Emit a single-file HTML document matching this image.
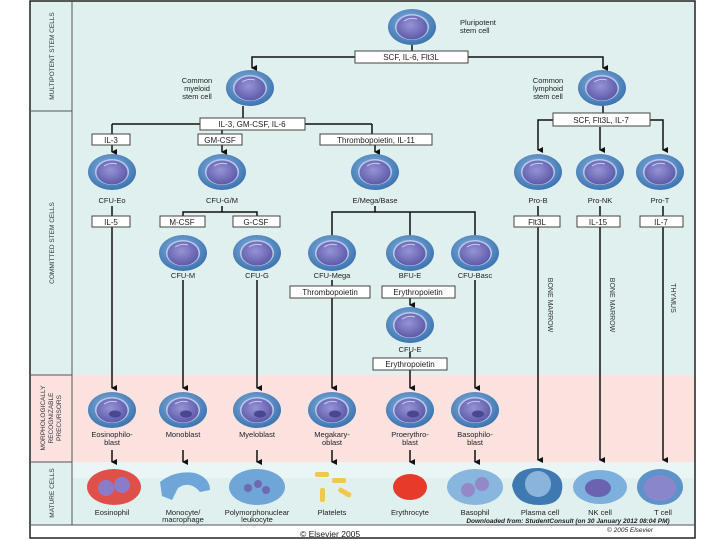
<!DOCTYPE html>
<html><head><meta charset="utf-8"><style>
html,body{margin:0;padding:0;background:#fff;}
svg{display:block;font-family:"Liberation Sans",sans-serif;}
</style></head><body>
<svg width="720" height="540" viewBox="0 0 720 540" xmlns="http://www.w3.org/2000/svg">
<defs>
<radialGradient id="go" cx="0.45" cy="0.4" r="0.6"><stop offset="0" stop-color="#8ab6e0"/><stop offset="1" stop-color="#3d74b0"/></radialGradient>
<radialGradient id="gi" cx="0.45" cy="0.4" r="0.6"><stop offset="0" stop-color="#9594d6"/><stop offset="1" stop-color="#5e5aa8"/></radialGradient>
<g id="c">
<ellipse cx="0" cy="0" rx="24" ry="18" fill="url(#go)"/>
<ellipse cx="0" cy="0" rx="17" ry="13" fill="#b8c8ec"/>
<ellipse cx="0" cy="0.5" rx="15.5" ry="12" fill="url(#gi)"/>
<path d="M-8,-6 Q-2,-10 5,-8" stroke="#c8c8f0" stroke-width="1" fill="none"/>
</g>
<g id="p">
<use href="#c"/>
<ellipse cx="3" cy="4" rx="6" ry="3.5" fill="#4a4690"/>
</g>
<marker id="a" markerWidth="6" markerHeight="6" refX="3" refY="5" orient="auto-start-reverse" markerUnits="userSpaceOnUse"><path d="M0,0 L6,0 L3,6 Z" fill="#111"/></marker>
</defs>
<rect x="30" y="1" width="665" height="537" fill="#dff0ee"/>
<rect x="30" y="375" width="665" height="87" fill="#fbe2df"/>
<rect x="72" y="462" width="623" height="16" fill="#e9f6f5"/>
<rect x="30" y="525" width="665" height="13" fill="#fff"/>
<rect x="30" y="1" width="665" height="537" fill="none" stroke="#222" stroke-width="1.5"/>
<line x1="72" y1="1" x2="72" y2="525" stroke="#555" stroke-width="1"/>
<line x1="30" y1="111" x2="72" y2="111" stroke="#555"/>
<line x1="30" y1="375" x2="72" y2="375" stroke="#555"/>
<line x1="30" y1="462" x2="72" y2="462" stroke="#555"/>
<line x1="30" y1="525" x2="695" y2="525" stroke="#555"/>
<g font-size="6.5" fill="#333" text-anchor="middle">
<text transform="translate(54,56) rotate(-90)">MULTIPOTENT STEM CELLS</text>
<text transform="translate(54,243) rotate(-90)">COMMITTED STEM CELLS</text>
<text transform="translate(45,418) rotate(-90)">MORPHOLOGICALLY</text>
<text transform="translate(53,418) rotate(-90)">RECOGNIZABLE</text>
<text transform="translate(61,418) rotate(-90)">PRECURSORS</text>
<text transform="translate(54,493) rotate(-90)">MATURE CELLS</text>
</g>
<g stroke="#111" stroke-width="1.5" fill="none">
<line x1="412" y1="45" x2="412" y2="51"/>
<polyline points="355,57 252,57 252,68" marker-end="url(#a)"/>
<polyline points="468,57 603,57 603,68" marker-end="url(#a)"/>
<line x1="243" y1="106" x2="243" y2="118"/>
<line x1="112" y1="124" x2="200" y2="124"/><line x1="305" y1="124" x2="372" y2="124"/>
<line x1="112" y1="124" x2="112" y2="134"/><line x1="112" y1="145" x2="112" y2="152" marker-end="url(#a)"/>
<line x1="222" y1="129" x2="222" y2="134"/><line x1="222" y1="145" x2="222" y2="152" marker-end="url(#a)"/>
<line x1="372" y1="124" x2="372" y2="134"/><line x1="375" y1="145" x2="375" y2="152" marker-end="url(#a)"/>
<line x1="603" y1="106" x2="603" y2="113"/>
<polyline points="553,120 538,120 538,150" marker-end="url(#a)"/>
<polyline points="650,120 663,120 663,150" marker-end="url(#a)"/>
<line x1="600" y1="127" x2="600" y2="150" marker-end="url(#a)"/>
<line x1="112" y1="206" x2="112" y2="216"/><line x1="112" y1="227" x2="112" y2="388" marker-end="url(#a)"/>
<polyline points="222,206 222,212 183,212 183,218"/><polyline points="222,212 257,212 257,218"/>
<polyline points="375,206 375,212 332,212 332,236"/><polyline points="375,212 475,212 475,236"/><line x1="410" y1="212" x2="410" y2="236"/>
<line x1="183" y1="280" x2="183" y2="388" marker-end="url(#a)"/>
<line x1="257" y1="280" x2="257" y2="388" marker-end="url(#a)"/>
<line x1="332" y1="280" x2="332" y2="388" marker-end="url(#a)"/>
<line x1="475" y1="280" x2="475" y2="388" marker-end="url(#a)"/>
<line x1="410" y1="298" x2="410" y2="305" marker-end="url(#a)"/>
<line x1="410" y1="352" x2="410" y2="358"/><line x1="410" y1="370" x2="410" y2="388" marker-end="url(#a)"/>
<line x1="538" y1="206" x2="538" y2="216"/><line x1="538" y1="227" x2="538" y2="460" marker-end="url(#a)"/>
<line x1="600" y1="206" x2="600" y2="216"/><line x1="600" y1="227" x2="600" y2="460" marker-end="url(#a)"/>
<line x1="663" y1="206" x2="663" y2="216"/><line x1="663" y1="227" x2="663" y2="460" marker-end="url(#a)"/>
<line x1="112" y1="450" x2="112" y2="462" marker-end="url(#a)"/>
<line x1="183" y1="450" x2="183" y2="462" marker-end="url(#a)"/>
<line x1="257" y1="450" x2="257" y2="462" marker-end="url(#a)"/>
<line x1="332" y1="450" x2="332" y2="462" marker-end="url(#a)"/>
<line x1="410" y1="450" x2="410" y2="462" marker-end="url(#a)"/>
<line x1="475" y1="450" x2="475" y2="462" marker-end="url(#a)"/>
</g>
<g fill="#fff" stroke="#444" stroke-width="1">
<rect x="355" y="51" width="113" height="12"/>
<rect x="200" y="118" width="105" height="12"/>
<rect x="92" y="134" width="38" height="11"/>
<rect x="198" y="134" width="44" height="11"/>
<rect x="320" y="134" width="112" height="11"/>
<rect x="553" y="113" width="97" height="13"/>
<rect x="92" y="216" width="38" height="11"/>
<rect x="160" y="216" width="45" height="11"/>
<rect x="233" y="216" width="47" height="11"/>
<rect x="514" y="216" width="46" height="11"/>
<rect x="577" y="216" width="43" height="11"/>
<rect x="640" y="216" width="43" height="11"/>
<rect x="290" y="286" width="80" height="12"/>
<rect x="382" y="286" width="73" height="12"/>
<rect x="373" y="358" width="74" height="12"/>
</g>
<g font-size="8" fill="#222" text-anchor="middle">
<text x="411" y="60">SCF, IL-6, Flt3L</text>
<text x="252" y="127">IL-3, GM-CSF, IL-6</text>
<text x="111" y="143">IL-3</text>
<text x="220" y="143">GM-CSF</text>
<text x="376" y="143">Thrombopoietin, IL-11</text>
<text x="601" y="123">SCF, Flt3L, IL-7</text>
<text x="111" y="225">IL-5</text>
<text x="182" y="225">M-CSF</text>
<text x="256" y="225">G-CSF</text>
<text x="537" y="225">Flt3L</text>
<text x="598" y="225">IL-15</text>
<text x="661" y="225">IL-7</text>
<text x="330" y="295">Thrombopoietin</text>
<text x="418" y="295">Erythropoietin</text>
<text x="410" y="367">Erythropoietin</text>
</g>
<use href="#c" x="412" y="27"/>
<use href="#c" x="250" y="88"/>
<use href="#c" x="602" y="88"/>
<use href="#c" x="112" y="172"/><use href="#c" x="222" y="172"/><use href="#c" x="375" y="172"/>
<use href="#c" x="538" y="172"/><use href="#c" x="600" y="172"/><use href="#c" x="660" y="172"/>
<use href="#c" x="183" y="253"/><use href="#c" x="257" y="253"/><use href="#c" x="332" y="253"/><use href="#c" x="410" y="253"/><use href="#c" x="475" y="253"/>
<use href="#c" x="410" y="325"/>
<use href="#p" x="112" y="410"/><use href="#p" x="183" y="410"/><use href="#p" x="257" y="410"/><use href="#p" x="332" y="410"/><use href="#p" x="410" y="410"/><use href="#p" x="475" y="410"/>
<ellipse cx="114" cy="487" rx="27" ry="18" fill="#e0504a"/><ellipse cx="106" cy="488" rx="8" ry="8" fill="#8a7cc8"/><ellipse cx="122" cy="485" rx="8" ry="8" fill="#8a7cc8"/>
<path d="M160,482 Q175,470 195,473 Q210,478 210,490 L200,492 Q190,480 178,488 L172,500 L162,496 Z" fill="#6ea6d8"/>
<ellipse cx="257" cy="487" rx="28" ry="18" fill="#6ea6d8"/><circle cx="248" cy="488" r="4" fill="#7068b0"/><circle cx="258" cy="484" r="4" fill="#7068b0"/><circle cx="266" cy="490" r="4" fill="#7068b0"/>
<g fill="#f0c850"><rect x="315" y="472" width="14" height="5" rx="2"/><rect x="332" y="478" width="14" height="5" rx="2"/><rect x="320" y="488" width="5" height="14" rx="2"/><rect x="338" y="490" width="14" height="5" rx="2" transform="rotate(30 345 492)"/></g>
<ellipse cx="410" cy="487" rx="17" ry="13" fill="#e83a2a"/>
<ellipse cx="475" cy="487" rx="28" ry="18" fill="#88b6de"/><circle cx="468" cy="490" r="7" fill="#9488c8"/><circle cx="482" cy="484" r="7" fill="#9488c8"/>
<path d="M512,485 Q515,467 540,468 Q565,472 562,490 Q560,505 540,505 Q515,505 512,485 Z" fill="#3f79b2"/><circle cx="538" cy="484" r="13" fill="#8ab4dc"/>
<ellipse cx="600" cy="487" rx="27" ry="17" fill="#7db0dc"/><ellipse cx="598" cy="488" rx="13" ry="9" fill="#6a64b0"/>
<ellipse cx="660" cy="487" rx="23" ry="18" fill="#5d93c8"/><ellipse cx="660" cy="488" rx="16" ry="13" fill="#8a86cc"/>
<g font-size="7.5" fill="#222" text-anchor="middle">
<text x="460" y="25" text-anchor="start">Pluripotent</text><text x="460" y="33" text-anchor="start">stem cell</text>
<text x="197" y="83">Common</text><text x="197" y="91">myeloid</text><text x="197" y="99">stem cell</text>
<text x="548" y="83">Common</text><text x="548" y="91">lymphoid</text><text x="548" y="99">stem cell</text>
<text x="112" y="203">CFU-Eo</text><text x="222" y="203">CFU-G/M</text><text x="375" y="203">E/Mega/Base</text>
<text x="538" y="203">Pro-B</text><text x="600" y="203">Pro-NK</text><text x="660" y="203">Pro-T</text>
<text x="183" y="278">CFU-M</text><text x="257" y="278">CFU-G</text><text x="332" y="278">CFU-Mega</text><text x="410" y="278">BFU-E</text><text x="475" y="278">CFU-Basc</text>
<text x="410" y="352">CFU-E</text>
<text x="112" y="437">Eosinophilo-</text><text x="112" y="445">blast</text>
<text x="183" y="437">Monoblast</text><text x="257" y="437">Myeloblast</text>
<text x="332" y="437">Megakary-</text><text x="332" y="445">oblast</text>
<text x="410" y="437">Proerythro-</text><text x="410" y="445">blast</text>
<text x="475" y="437">Basophilo-</text><text x="475" y="445">blast</text>
<text x="112" y="515">Eosinophil</text>
<text x="183" y="515">Monocyte/</text><text x="183" y="522">macrophage</text>
<text x="257" y="515">Polymorphonuclear</text><text x="257" y="522">leukocyte</text>
<text x="332" y="515">Platelets</text><text x="410" y="515">Erythrocyte</text><text x="475" y="515">Basophil</text>
<text x="540" y="515">Plasma cell</text><text x="600" y="515">NK cell</text><text x="663" y="515">T cell</text>
</g>
<g font-size="7" fill="#333" text-anchor="middle">
<text transform="translate(548,305) rotate(90)">BONE MARROW</text>
<text transform="translate(610,305) rotate(90)">BONE MARROW</text>
<text transform="translate(671,298) rotate(90)">THYMUS</text>
</g>
<text x="568" y="523" font-size="6.5" font-style="italic" font-weight="bold" fill="#222" text-anchor="middle">Downloaded from: StudentConsult (on 30 January 2012 08:04 PM)</text>
<text x="630" y="532" font-size="6.5" font-style="italic" fill="#222" text-anchor="middle">© 2005 Elsevier</text>
<text x="300" y="537" font-size="8.5" fill="#222" text-anchor="start">© Elsevier 2005</text>
</svg>
</body></html>
